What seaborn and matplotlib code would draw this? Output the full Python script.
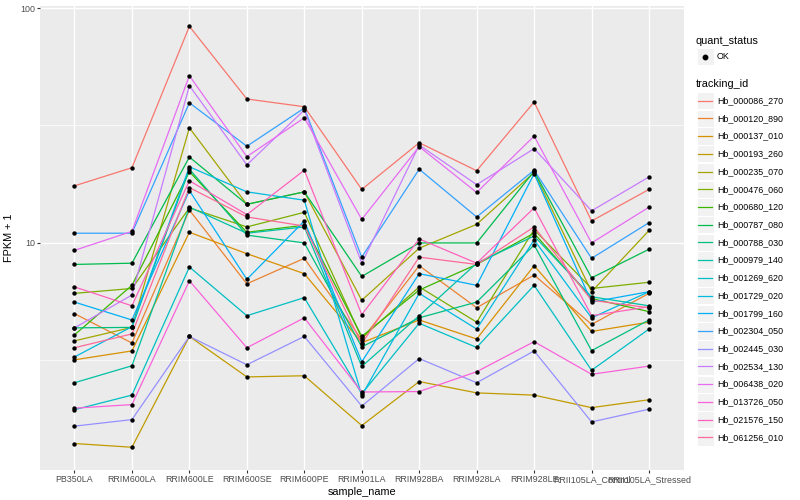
import math
import numpy as np
import pandas as pd
import matplotlib
matplotlib.use("Agg")
import matplotlib.pyplot as plt
import seaborn as sns
from matplotlib.patches import Rectangle
from matplotlib.lines import Line2D
from matplotlib.ticker import FixedLocator, FixedFormatter, NullFormatter

# ---------------- data ----------------
samples = ["PB350LA", "RRIM600LA", "RRIM600LE", "RRIM600SE", "RRIM600PE",
           "RRIM901LA", "RRIM928BA", "RRIM928LA", "RRIM928LE",
           "RRII105LA_Control", "RRII105LA_Stressed"]

tracking_ids = ["Hb_000086_270", "Hb_000120_890", "Hb_000137_010", "Hb_000193_260",
                "Hb_000235_070", "Hb_000476_060", "Hb_000680_120", "Hb_000787_080",
                "Hb_000788_030", "Hb_000979_140", "Hb_001269_620", "Hb_001729_020",
                "Hb_001799_160", "Hb_002304_050", "Hb_002445_030", "Hb_002534_130",
                "Hb_006438_020", "Hb_013726_050", "Hb_021576_150", "Hb_061256_010"]

Hb_000086_270 = [17.5, 20.9, 83.6, 41.0, 38.0, 16.9, 26.7, 20.3, 39.8, 12.4, 16.9]
Hb_000120_890 = [5.0, 3.75, 13.8, 6.7, 8.6, 3.87, 8.0, 5.3, 7.3, 4.5, 6.1]
Hb_000137_010 = [3.18, 3.47, 11.1, 9.0, 7.4, 3.76, 4.7, 3.9, 8.0, 4.2, 4.6]
Hb_000193_260 = [1.40, 1.35, 4.0, 2.69, 2.72, 1.67, 2.57, 2.30, 2.25, 1.99, 2.15]
Hb_000235_070 = [3.83, 4.37, 30.9, 14.6, 16.5, 5.7, 9.5, 12.0, 19.95, 6.2, 11.3]
Hb_000476_060 = [6.1, 6.4, 14.1, 11.7, 13.5, 3.94, 6.5, 4.6, 11.4, 6.4, 6.8]
Hb_000680_120 = [4.06, 6.6, 20.1, 11.1, 11.9, 4.0, 6.3, 8.1, 11.0, 5.8, 5.1]
Hb_000787_080 = [8.1, 8.2, 23.2, 14.6, 16.5, 7.2, 10.0, 10.0, 20.2, 7.1, 9.4]
Hb_000788_030 = [4.35, 4.37, 20.6, 10.8, 10.0, 3.61, 4.8, 5.6, 9.8, 3.48, 4.7]
Hb_000979_140 = [2.54, 3.0, 14.2, 11.0, 11.7, 2.98, 4.9, 8.2, 10.7, 5.9, 5.4]
Hb_001269_620 = [1.95, 2.25, 7.9, 4.9, 5.85, 2.28, 4.55, 3.59, 6.6, 2.87, 4.3]
Hb_001729_020 = [3.27, 4.4, 21.1, 16.5, 15.2, 2.24, 6.1, 4.3, 10.3, 4.8, 6.2]
Hb_001799_160 = [5.6, 4.7, 16.7, 7.0, 12.4, 3.12, 7.4, 6.6, 19.7, 5.6, 6.2]
Hb_002304_050 = [11.0, 11.0, 39.5, 25.8, 37.5, 8.7, 20.6, 12.9, 20.4, 8.6, 12.2]
Hb_002445_030 = [1.66, 1.77, 4.0, 3.03, 4.0, 2.02, 3.22, 2.54, 3.47, 1.73, 1.96]
Hb_002534_130 = [4.35, 6.0, 46.7, 21.5, 36.8, 8.2, 26.1, 17.7, 25.2, 13.7, 19.1]
Hb_006438_020 = [9.3, 11.2, 51.5, 23.3, 34.1, 12.6, 25.7, 16.4, 28.5, 10.0, 14.2]
Hb_013726_050 = [1.98, 2.05, 6.9, 3.58, 4.8, 2.32, 2.33, 2.83, 3.8, 2.76, 2.99]
Hb_021576_150 = [6.5, 5.4, 18.4, 13.2, 20.4, 4.95, 10.4, 8.2, 14.1, 4.9, 5.35]
Hb_061256_010 = [3.58, 4.1, 17.2, 12.9, 11.8, 3.72, 8.7, 8.1, 11.7, 5.7, 5.3]

series = [Hb_000086_270, Hb_000120_890, Hb_000137_010, Hb_000193_260, Hb_000235_070,
          Hb_000476_060, Hb_000680_120, Hb_000787_080, Hb_000788_030, Hb_000979_140,
          Hb_001269_620, Hb_001729_020, Hb_001799_160, Hb_002304_050, Hb_002445_030,
          Hb_002534_130, Hb_006438_020, Hb_013726_050, Hb_021576_150, Hb_061256_010]

quant_status = ["OK"]

# ---------------- ggplot hue palette ----------------
def hcl_hex(h, c=100.0, l=65.0):
    WY = 100.0
    Wu, Wv = 0.1978398, 0.4683363
    hr = math.radians(h)
    U, V = c * math.cos(hr), c * math.sin(hr)
    Y = WY * (((l + 16) / 116) ** 3 if l > 7.999592 else l / 903.3)
    u = U / (13 * l) + Wu
    v = V / (13 * l) + Wv
    X = 9.0 * Y * u / (4 * v)
    Z = -X / 3 - 5 * Y + 3 * Y / v

    def g(t):
        t = t / WY
        t = 1.055 * t ** (1 / 2.4) - 0.055 if t > 0.00304 else 12.92 * t
        return min(max(t, 0.0), 1.0)
    r = g(3.240479 * X - 1.537150 * Y - 0.498535 * Z)
    gg = g(-0.969256 * X + 1.875992 * Y + 0.041556 * Z)
    b = g(0.055648 * X - 0.204043 * Y + 1.057311 * Z)
    return "#%02X%02X%02X" % (int(255 * r + .5), int(255 * gg + .5), int(255 * b + .5))

n = len(tracking_ids)
hues = np.linspace(15, 375, n + 1)[:n]
palette = [hcl_hex(h) for h in hues]

# ---------------- long table ----------------
rows = []
for tid, vals in zip(tracking_ids, series):
    for i, (s, v) in enumerate(zip(samples, vals)):
        rows.append({"tracking_id": tid, "sample_name": s, "pos": i, "fpkm": v,
                     "quant_status": "OK"})
df = pd.DataFrame(rows)

# ---------------- figure ----------------
plt.rcParams["font.family"] = ["Liberation Sans", "DejaVu Sans"]
W, H = 800, 500
fig = plt.figure(figsize=(8, 5), dpi=100)
ax = fig.add_axes([40 / W, 1 - 470 / H, (683.5 - 40) / W, (470 - 6) / H])
ax.set_facecolor("#EBEBEB")
for sp in ax.spines.values():
    sp.set_visible(False)

sns.lineplot(data=df, x="pos", y="fpkm", hue="tracking_id", hue_order=tracking_ids,
             palette=palette, linewidth=0.9, legend=False, ax=ax, sort=True,
             estimator=None, zorder=2)
sns.scatterplot(data=df, x="pos", y="fpkm", color="black", s=10, linewidth=0,
                legend=False, ax=ax, zorder=3)

ax.set_yscale("log")
ax.set_ylim(1.08, 102.0)
ax.set_xlim(-0.6, len(samples) - 1 + 0.6)

ax.yaxis.set_major_locator(FixedLocator([10, 100]))
ax.yaxis.set_major_formatter(FixedFormatter(["10", "100"]))
ax.yaxis.set_minor_locator(FixedLocator([10 ** 0.5, 10 ** 1.5]))
ax.yaxis.set_minor_formatter(NullFormatter())
ax.set_xticks(range(len(samples)))
ax.set_xticklabels(samples)

ax.grid(which="major", color="white", linewidth=1.0)
ax.grid(which="minor", axis="y", color="white", linewidth=0.5)
ax.set_axisbelow(True)

ax.tick_params(axis="both", which="major", length=2.2, width=0.8, color="#333333",
               labelsize=6.4, labelcolor="#4D4D4D", pad=1.5)
ax.tick_params(axis="y", which="minor", length=0)

ax.set_xlabel("sample_name", fontsize=7.8, labelpad=2, color="black")
ax.set_ylabel("FPKM + 1", fontsize=7.8, labelpad=4, color="black")

# ---------------- legends (ggplot style) ----------------
def fx(px):
    return px / W

def fy(py):
    return 1 - py / H

tf = fig.transFigure
key_w, key_h = 17.0, 17.3
key_x = 696.5
text_x = 717.0

fig.text(fx(696), fy(41), "quant_status", fontsize=7.8, va="center", ha="left")
cy = 56.7
fig.add_artist(Rectangle((fx(key_x), fy(cy + key_h / 2)), key_w / W, key_h / H,
                         transform=tf, facecolor="#F2F2F2", edgecolor="white", lw=0.8))
fig.add_artist(Line2D([fx(key_x + key_w / 2)], [fy(cy)], transform=tf, marker="o",
                      markersize=3.2, color="black", linestyle="none"))
fig.text(fx(text_x), fy(cy), quant_status[0], fontsize=6.4, va="center", ha="left")

fig.text(fx(696), fy(84), "tracking_id", fontsize=7.8, va="center", ha="left")
step = (437.3 - 100.7) / (n - 1)
for i, (tid, col) in enumerate(zip(tracking_ids, palette)):
    cy = 100.7 + i * step
    fig.add_artist(Rectangle((fx(key_x), fy(cy + key_h / 2)), key_w / W, key_h / H,
                             transform=tf, facecolor="#F2F2F2", edgecolor="white", lw=0.8))
    fig.add_artist(Line2D([fx(key_x + 1.5), fx(key_x + key_w - 1.5)], [fy(cy), fy(cy)],
                          transform=tf, color=col, lw=0.9))
    fig.text(fx(text_x), fy(cy), tid, fontsize=6.4, va="center", ha="left")

fig.savefig("out.png", dpi=100, facecolor="white")
